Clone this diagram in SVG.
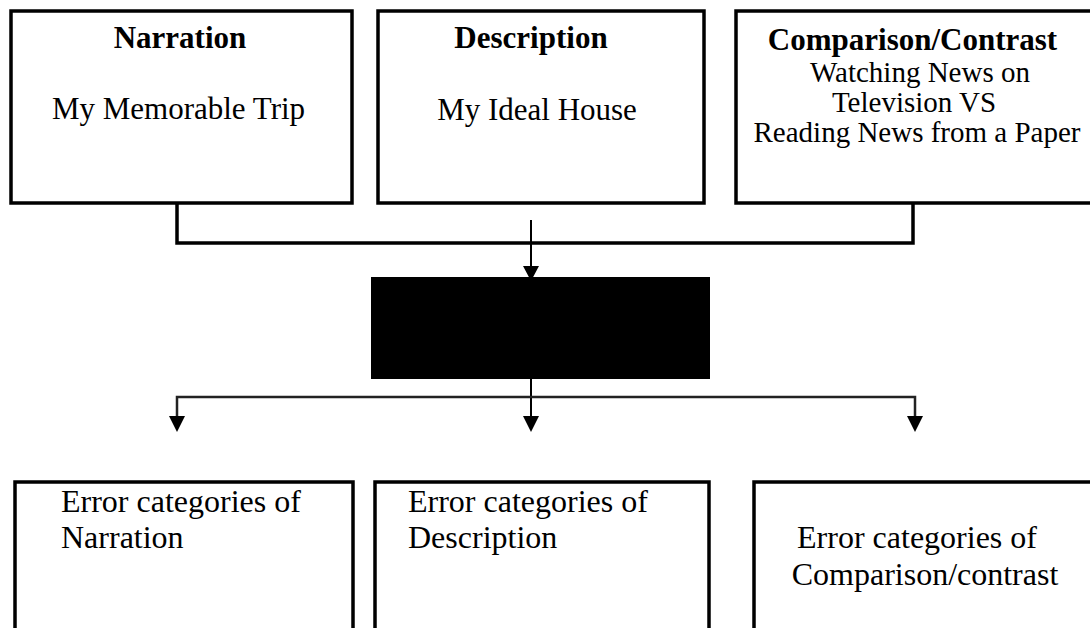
<svg xmlns="http://www.w3.org/2000/svg" width="1090" height="628" viewBox="0 0 1090 628">
<style>
.box{fill:#fff;stroke:#000;stroke-width:3.5}
.t{font-family:"Liberation Serif","Times New Roman",serif;fill:#000;font-size:31px}
.b{font-weight:bold}
.m{text-anchor:middle}
.s{font-size:32px}
.c{font-size:29px}
.thick{fill:none;stroke:#000;stroke-width:3.5}
.thin{fill:none;stroke:#000;stroke-width:2}
.ah{fill:#000}
</style>
<rect width="1090" height="628" fill="#fff"/>
<g id="narration">
<rect class="box" x="11" y="11" width="341" height="192"/>
<text class="t b m" x="180" y="48">Narration</text>
<text class="t m" x="178.5" y="119">My Memorable Trip</text>
</g>
<g id="description">
<rect class="box" x="378" y="11" width="326" height="192"/>
<text class="t b m" x="531" y="48">Description</text>
<text class="t m" x="537" y="120">My Ideal House</text>
</g>
<g id="comparison">
<rect class="box" x="736" y="11" width="370" height="192"/>
<text class="t b m" x="912.5" y="50">Comparison/Contrast</text>
<text class="t c m" x="920" y="82">Watching News on</text>
<text class="t c m" x="914" y="112">Television VS</text>
<text class="t c m" x="917" y="142">Reading News from a Paper</text>
</g>
<g id="center">
<rect x="371" y="277" width="339" height="102" fill="#000"/>
</g>
<g id="err-narration">
<rect class="box" x="15" y="482" width="338" height="160"/>
<text class="t s" x="61" y="512">Error categories of</text>
<text class="t s" x="61" y="548">Narration</text>
</g>
<g id="err-description">
<rect class="box" x="375" y="482" width="334" height="160"/>
<text class="t s" x="408" y="512">Error categories of</text>
<text class="t s" x="408" y="548">Description</text>
</g>
<g id="err-comparison">
<rect class="box" x="754" y="482" width="360" height="160"/>
<text class="t s m" x="917" y="548">Error categories of</text>
<text class="t s m" x="925" y="585">Comparison/contrast</text>
</g>
<g id="connectors">
<polyline class="thick" points="177,203 177,243 913,243 913,203"/>
<line class="thin" x1="531" y1="220" x2="531" y2="268"/>
<polygon class="ah" points="523,266 539,266 531,281"/>
<line class="thin" x1="531" y1="379" x2="531" y2="417"/>
<polyline fill="none" stroke="#222" stroke-width="2.5" points="177,418 177,397 915,397 915,418"/>
<polygon class="ah" points="169,416 185,416 177,432"/>
<polygon class="ah" points="523,416 539,416 531,432"/>
<polygon class="ah" points="907,416 923,416 915,432"/>
</g>
</svg>
